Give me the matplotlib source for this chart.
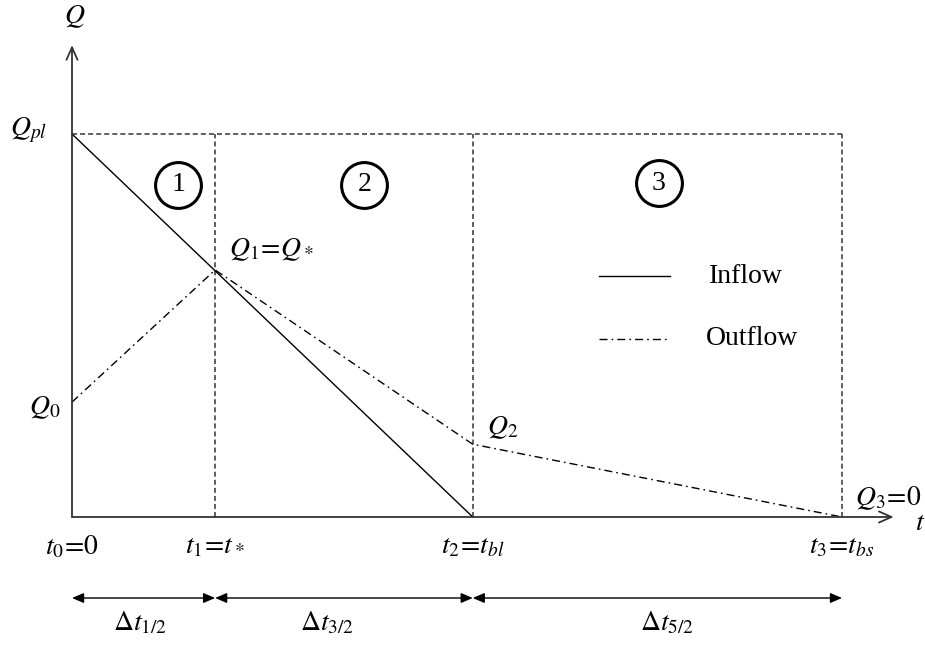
import matplotlib
matplotlib.use("Agg")
import matplotlib.pyplot as plt
from matplotlib.transforms import offset_copy

plt.rcParams['font.family'] = ['Liberation Serif', 'DejaVu Serif']
plt.rcParams['mathtext.fontset'] = 'stix'
plt.rcParams['lines.scale_dashes'] = False

# times t0..t3 (t1 = 1) and discharges (Qpl = 1)
t_vals = [0.0, 1.0, 2.80, 5.38]
t_labels = [r'$t_0\!{=}\!0$', r'$t_1\!{=}\!t_*$', r'$t_2\!{=}\!t_{bl}$', r'$t_3\!{=}\!t_{bs}$']
Q_pl = 1.0
inflow_t = [0.0, 2.80]
inflow_Q = [1.0, 0.0]
outflow_Q = [0.30, 0.645, 0.19, 0.0]
outflow_labels = [r'$Q_0$', r'$Q_1\!{=}\!Q_*$', r'$Q_2$', r'$Q_3\!{=}\!0$']
dt_labels = [r'$\Delta t_{1/2}$', r'$\Delta t_{3/2}$', r'$\Delta t_{5/2}$']
zones = ['1', '2', '3']

FS = 20
dash = (0, (3.6, 2.2))
dashdot = (0, (5.8, 2.9, 1.2, 2.9))

fig = plt.figure(figsize=(9.25, 6.45), dpi=100)
ax = fig.add_axes([72 / 925, 128 / 645, 770 / 925, 383 / 645])
ax.set_xlim(0, t_vals[-1])
ax.set_ylim(0, Q_pl)
ax.axis('off')

# axes with open arrow heads
q_top, t_end = 1.232, 5.741
ax_arrow = dict(arrowstyle='->,head_length=0.9,head_width=0.4', mutation_scale=10,
                color='#333333', lw=1.3, shrinkA=0, shrinkB=0)
ax.annotate('', xy=(0, q_top), xytext=(0, 0), arrowprops=ax_arrow, annotation_clip=False)
ax.annotate('', xy=(t_end, 0), xytext=(0, 0), arrowprops=ax_arrow, annotation_clip=False)
ax.annotate(r'$Q$', xy=(0, q_top), xytext=(3, 28), textcoords='offset pixels',
            ha='center', va='center', fontsize=FS, annotation_clip=False)
ax.annotate(r'$t$', xy=(t_end, 0), xytext=(26, -6), textcoords='offset pixels',
            ha='center', va='center', fontsize=FS, annotation_clip=False)

# dashed box lines
ax.plot([0, t_vals[-1]], [Q_pl, Q_pl], color='#444444', lw=1.2, ls=dash, clip_on=False)
for t in t_vals[1:]:
    ax.plot([t, t], [0, Q_pl], color='#444444', lw=1.2, ls=dash, clip_on=False)

# hydrographs
ax.plot(inflow_t, inflow_Q, color='black', lw=1.0, clip_on=False)
ax.plot(t_vals, outflow_Q, color='black', lw=1.0, ls=dashdot, clip_on=False)

ax.annotate(r'$Q_{pl}$', xy=(0, Q_pl), xytext=(-25, 4), textcoords='offset pixels',
            ha='right', va='center', fontsize=FS, annotation_clip=False)
q_offsets = [(-12, -6, 'right'), (14, 20, 'left'), (14, 17, 'left'), (13, 19, 'left')]
for t, q, lab, (dx, dy, ha) in zip(t_vals, outflow_Q, outflow_labels, q_offsets):
    ax.annotate(lab, xy=(t, q), xytext=(dx, dy), textcoords='offset pixels',
                ha=ha, va='center', fontsize=FS, annotation_clip=False)

# time labels
for t, lab in zip(t_vals, t_labels):
    ax.annotate(lab, xy=(t, 0), xytext=(0, -30), textcoords='offset pixels',
                ha='center', va='center', fontsize=FS, annotation_clip=False)

# interval arrows
trans = offset_copy(ax.transData, fig=fig, y=-81, units='dots')
dt_arrow = dict(arrowstyle='<|-|>,head_length=0.7,head_width=0.3', mutation_scale=10,
                color='black', lw=1.0, shrinkA=0, shrinkB=0)
dt_dx = [-4, -17, 10]
for i, lab in enumerate(dt_labels):
    ax.annotate('', xy=(t_vals[i + 1], 0), xytext=(t_vals[i], 0), xycoords=trans,
                textcoords=trans, arrowprops=dt_arrow, annotation_clip=False)
    mid = (t_vals[i] + t_vals[i + 1]) / 2
    ax.annotate(lab, xy=(mid, 0), xytext=(dt_dx[i], -106), textcoords='offset pixels',
                ha='center', va='center', fontsize=FS, annotation_clip=False)

# circled zone numbers
zone_pos = [(0.741, 0.867), (2.042, 0.867), (4.098, 0.872)]
for (x, y), z in zip(zone_pos, zones):
    ax.plot(x, y, 'o', ms=33, mfc='none', mec='black', mew=2.2, clip_on=False)
    ax.text(x, y, z, ha='center', va='center', fontsize=FS)

# legend
leg_x = [3.68, 4.18]
ax.plot(leg_x, [0.629, 0.629], color='black', lw=1.0)
ax.plot(leg_x, [0.465, 0.465], color='black', lw=1.0, ls=dashdot)
ax.text(4.45, 0.629, 'Inflow', ha='left', va='center', fontsize=FS)
ax.text(4.43, 0.465, 'Outflow', ha='left', va='center', fontsize=FS)

fig.savefig('out.png', dpi=100)
